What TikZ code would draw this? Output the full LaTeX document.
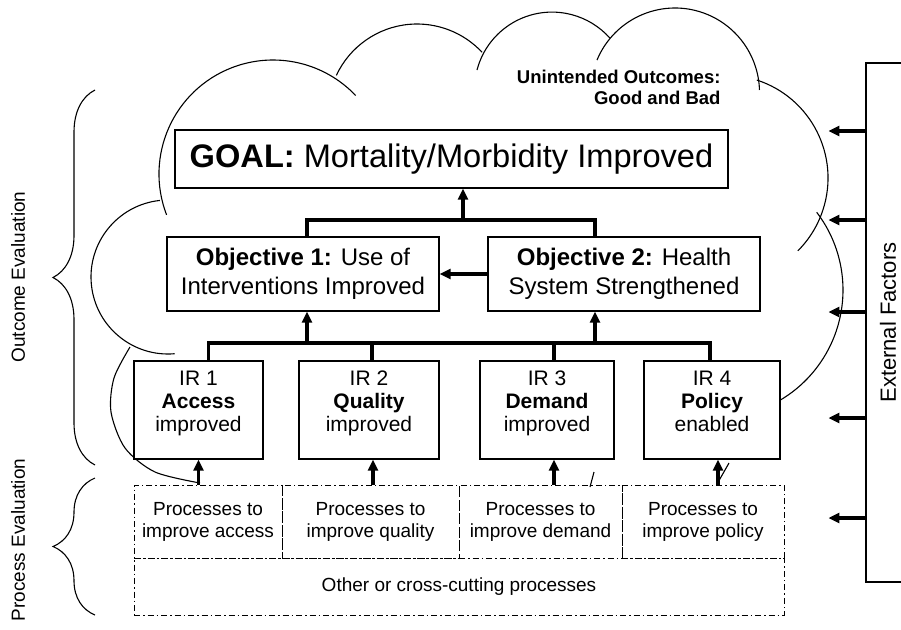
\documentclass[tikz,border=0pt]{standalone}
\usepackage{fontspec}
\setmainfont{Liberation Sans}
\usepackage{graphicx}
\usetikzlibrary{arrows.meta,decorations.pathreplacing}
\tikzset{
  box/.style={draw, line width=1.3pt, fill=white, inner sep=0pt, align=center},
  irbox/.style={box, minimum height=98pt, text depth=18pt,
    font=\fontsize{21}{23}\selectfont},
  objbox/.style={box, minimum width=272pt, minimum height=74pt,
    font=\fontsize{24}{29}\selectfont},
  procbox/.style={draw, line width=0.9pt, dash pattern=on 6pt off 3pt on 1.5pt off 3pt,
    inner sep=0pt, align=center, minimum height=73pt, font=\fontsize{19}{22}\selectfont},
  link/.style={line width=3.3pt},
  arr/.style={line width=3.3pt, -{Triangle[length=11pt,width=10pt]}},
  puff/.style={line width=1.1pt},
  sidebrace/.style={line width=1.1pt, decorate, decoration={brace, amplitude=42pt}},
  sidelabel/.style={rotate=90, font=\fontsize{19}{22}\selectfont}
}
\begin{document}
\begin{tikzpicture}[x=1pt, y=-1pt]
\useasboundingbox (0,0) rectangle (901,629);

% cloud
\foreach \cx/\cy/\r/\a/\b in {273/174/114/159/316.5, 417/113/89/205/317,
  552/89.6/77.5/194.6/318.3, 675/92.5/84.5/202.6/358.3, 725/178/103/288/405,
  715/290/128/322.6/420, 168/277/77/264/85}
  \draw[puff] (\cx,\cy) ++(\a:\r) arc[start angle=\a, end angle=\b, radius=\r];
\draw[puff] plot[smooth] coordinates {(130,347) (114,378) (111,412) (125,448) (155,472) (200,483)};
\draw[puff] (590,487) -- (594,472);
\draw[puff] (717,484) -- (729,463);

\node[font=\fontsize{18.5}{20.5}\selectfont\bfseries, align=right, anchor=north east]
  (unint) at (724,67) {Unintended Outcomes:\\Good and Bad};

% boxes
\node[box, minimum width=553pt, minimum height=58pt, font=\fontsize{32.6}{36}\selectfont]
  (goal) at (451.5,159) {\textbf{GOAL:} Mortality/Morbidity Improved};
\node[objbox] (obj1) at (303,274) {\textbf{Objective 1:} Use of\\Interventions Improved};
\node[objbox] (obj2) at (624,274) {\textbf{Objective 2:} Health\\System Strengthened};

\node[irbox, minimum width=129pt] (ir1) at (198.5,410) {IR 1\\\textbf{Access}\\improved};
\node[irbox, minimum width=140pt] (ir2) at (369,410) {IR 2\\\textbf{Quality}\\improved};
\node[irbox, minimum width=134pt] (ir3) at (547,410) {IR 3\\\textbf{Demand}\\improved};
\node[irbox, minimum width=136pt] (ir4) at (712,410) {IR 4\\\textbf{Policy}\\enabled};

\node[procbox, minimum width=148pt] (pa) at (208,521.5) {Processes to\\improve access};
\node[procbox, minimum width=177pt] (pq) at (370.5,521.5) {Processes to\\improve quality};
\node[procbox, minimum width=163pt] (pd) at (540.5,521.5) {Processes to\\improve demand};
\node[procbox, minimum width=162pt] (pp) at (703,521.5) {Processes to\\improve policy};
\node[procbox, minimum width=650pt, minimum height=57pt] (other) at (459,586.5)
  {Other or cross-cutting processes};

\node[draw, line width=1.1pt, minimum width=44pt, minimum height=519pt, inner sep=0pt,
  font=\fontsize{22}{24}\selectfont] (ext) at (888,322.5) {\rotatebox{90}{External Factors}};

% connectors
\coordinate (top) at (463,220);
\coordinate (bus) at (451,343);
\draw[link] ([xshift=4]obj1.north) |- (top) -| ([xshift=-29]obj2.north);
\draw[arr] (top) -- (top |- goal.south);
\draw[arr] (obj2.west) -- (obj1.east);
\draw[link] ([xshift=10]ir1.north) |- (bus) -| ([xshift=-2]ir4.north);
\draw[link] ([xshift=3]ir2.north) -- ([xshift=3]ir2.north |- bus);
\draw[link] ([xshift=7]ir3.north) -- ([xshift=7]ir3.north |- bus);
\draw[arr] ([xshift=4]obj1.south |- bus) -- ([xshift=4]obj1.south);
\draw[arr] ([xshift=-29]obj2.south |- bus) -- ([xshift=-29]obj2.south);

\draw[arr] (pa.north -| ir1.south) -- (ir1.south);
\draw[arr] ([xshift=4]ir2.south |- pq.north) -- ([xshift=4]ir2.south);
\draw[arr] ([xshift=7]ir3.south |- pd.north) -- ([xshift=7]ir3.south);
\draw[arr] ([xshift=6]ir4.south |- pp.north) -- ([xshift=6]ir4.south);

\foreach \y in {131,220,312,418,518}
  \draw[arr] (ext.west |- 0,\y) -- ++(-37,0);

% evaluation braces
\draw[sidebrace] (95,465) -- (95,90);
\draw[sidebrace] (95,615) -- (95,478);
\node[sidelabel] (outcome) at (18,277) {Outcome Evaluation};
\node[sidelabel] (process) at (18,540) {Process Evaluation};
\end{tikzpicture}
\end{document}
